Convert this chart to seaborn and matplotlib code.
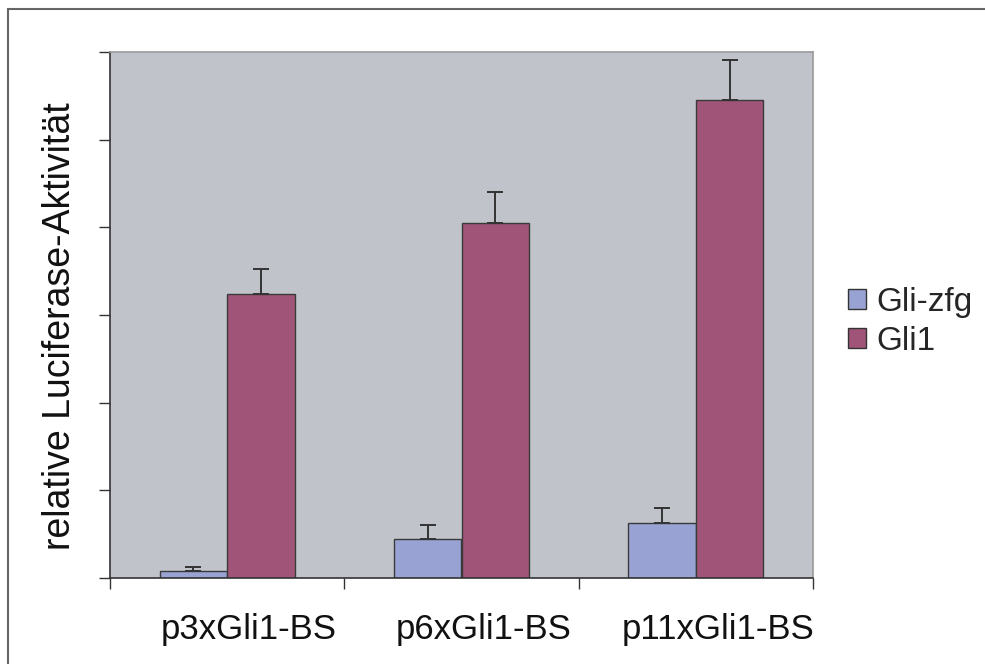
import matplotlib
matplotlib.use("Agg")
import matplotlib.pyplot as plt
import matplotlib.transforms as mtransforms
import seaborn as sns
import pandas as pd
import numpy as np
from matplotlib.patches import Rectangle

categories = ["p3xGli1-BS", "p6xGli1-BS", "p11xGli1-BS"]
series = ["Gli-zfg", "Gli1"]
gli_zfg = [0.08, 0.44, 0.63]
gli_zfg_err = [0.05, 0.16, 0.17]
gli1 = [3.24, 4.05, 5.45]
gli1_err = [0.29, 0.35, 0.46]
colors = ["#99A3D3", "#A05478"]

df = pd.DataFrame({
    "construct": categories * 2,
    "protein": [series[0]] * 3 + [series[1]] * 3,
    "value": gli_zfg + gli1,
})

sns.set_theme(style="white")
plt.rcParams['font.family'] = ['Liberation Sans', 'DejaVu Sans']

fig = plt.figure(figsize=(9.85, 6.64), dpi=100)
ax = fig.add_axes([110/985, 1-578/664, (813-110)/985, (578-52)/664])
ax.set_facecolor("#C0C3CA")

sns.barplot(data=df, x="construct", y="value", hue="protein", order=categories,
            hue_order=series, palette=colors, width=0.575, edgecolor="#3a3a3a",
            linewidth=1.0, saturation=1, errorbar=None, ax=ax, legend=True)

errs = [gli_zfg_err, gli1_err]
for cont, e in zip(ax.containers, errs):
    xs = [p.get_x() + p.get_width() / 2 for p in cont.patches]
    hs = [p.get_height() for p in cont.patches]
    ax.errorbar(xs, hs, yerr=[np.zeros(len(e)), e], fmt="none", ecolor="#333333",
                elinewidth=1.4, capsize=5.5, capthick=1.4, zorder=1)

ax.set_ylim(0, 6)
ax.set_xlim(-0.5, 2.5)
ax.set_yticks(np.arange(0, 7, 1))
ax.set_yticklabels([])
ax.set_xticks([-0.5, 0.5, 1.5, 2.5], minor=False)
ax.set_xticklabels([])
ax.set_xticks([0, 1, 2], minor=True)
ax.set_xticklabels(categories, minor=True, fontsize=25, color="#111111")
ax.tick_params(axis="x", which="minor", length=0, pad=25)
ax.tick_params(axis="x", which="major", direction="out", length=8, width=1, color="#333333", bottom=True)
ax.tick_params(axis="y", direction="out", length=8, width=1, color="#333333", left=True)

shift = mtransforms.ScaledTranslation(22/100, 0, fig.dpi_scale_trans)
for lbl in ax.get_xticklabels(minor=True):
    lbl.set_transform(lbl.get_transform() + shift)

for s in ["left", "bottom"]:
    ax.spines[s].set_color("#333333")
    ax.spines[s].set_linewidth(1.2)
for s in ["top", "right"]:
    ax.spines[s].set_color("#9a9a9a")
    ax.spines[s].set_linewidth(1.2)

ax.set_xlabel("")
ax.set_ylabel("relative Luciferase-Aktivität", fontsize=27, color="#111111")
ax.yaxis.set_label_coords((78-110)/703, (578-326)/526)

leg = ax.legend(loc="center left", bbox_to_anchor=(1.05, 0.487), frameon=False,
                fontsize=24, handlelength=0.55, handleheight=0.55, handletextpad=0.3,
                labelspacing=0.25, borderpad=0, borderaxespad=0)
for h in leg.legend_handles:
    h.set_edgecolor("#333333")
    h.set_linewidth(1.0)

fig.patches.append(Rectangle((8/985, -0.1), 1.2, (664-9)/664 + 0.1, transform=fig.transFigure,
                             fill=False, edgecolor="#666666", linewidth=1.5, zorder=0))

fig.savefig("out.png", dpi=100)
